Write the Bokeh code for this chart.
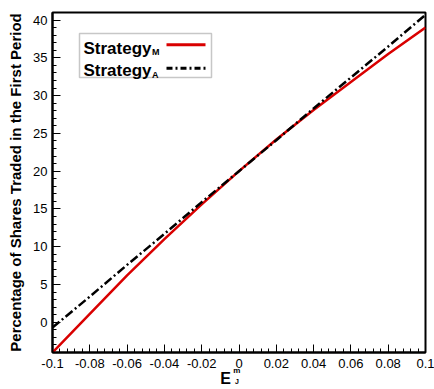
from bokeh.plotting import figure
from bokeh.models import (Range1d, SingleIntervalTicker, CustomJSTickFormatter,
                          FixedTicker, LinearAxis, Label, BoxAnnotation, Arrow)
from bokeh.embed import file_html
from bokeh.resources import INLINE

# ---- data ----
e_jm = [-0.1, -0.08, -0.06, -0.04, -0.02, 0.0, 0.02, 0.04, 0.06, 0.08, 0.1]
strategy_m = [-4.0, 1.1, 6.2, 11.0, 15.6, 20.0, 24.2, 28.1, 31.8, 35.5, 39.0]
strategy_a = [-0.7, 3.4, 7.6, 11.7, 15.9, 20.0, 24.1, 28.3, 32.4, 36.5, 40.7]
legend_labels = ["Strategy", "Strategy"]
legend_subs = ["M", "A"]
y_title = "Percentage of Shares Traded in the First Period"
x_title, x_sup, x_sub = "E", "m", "J"

FONT = "Liberation Sans"
NB = "\u00a0"
W, H = 434, 389
L, R, T, B = 52, 9, 12, 37
FRAME_L, FRAME_B = L, H - B

def sx(x):
    return x - FRAME_L

def sy(y):
    return FRAME_B - y

p = figure(width=W, height=H, output_backend="svg", toolbar_location=None,
           x_range=Range1d(-0.1, 0.1), y_range=Range1d(-4, 41),
           min_border_left=L, min_border_right=R, min_border_top=T, min_border_bottom=B)
p.grid.visible = False
p.outline_line_color = "black"
p.outline_line_width = 2
p.background_fill_color = "white"
p.border_fill_color = "white"

p.xaxis.ticker = SingleIntervalTicker(interval=0.02, num_minor_ticks=5)
p.yaxis.ticker = SingleIntervalTicker(interval=5, num_minor_ticks=5)
p.xaxis.formatter = CustomJSTickFormatter(code="""
if (Math.abs(tick) < 1e-9) return '0';
let s = tick.toFixed(2);
s = s.replace(/0+$/, '').replace(/\\.$/, '');
return s;
""")
for ax in (p.xaxis[0], p.yaxis[0]):
    ax.major_tick_in = 8
    ax.major_tick_out = 0
    ax.minor_tick_in = 4
    ax.minor_tick_out = 0
    ax.major_tick_line_color = "black"
    ax.minor_tick_line_color = "black"
    ax.axis_line_color = "black"
    ax.axis_line_width = 2
    ax.major_label_text_font = FONT
    ax.major_label_text_font_size = "13px"
    ax.major_label_text_color = "black"
p.xaxis.major_label_standoff = 6
p.yaxis.major_label_standoff = 5
p.yaxis.axis_label = y_title
p.yaxis.axis_label_text_font = FONT
p.yaxis.axis_label_text_font_size = "15px"
p.yaxis.axis_label_text_font_style = "bold"
p.yaxis.axis_label_text_color = "black"
p.yaxis.axis_label_standoff = 6

# x-axis title E_J^m built from stacked axis labels (superscript, letter, subscript)
xa = p.xaxis[0]
xa.axis_label = x_sup + NB * 2
xa.axis_label_text_font = FONT
xa.axis_label_text_font_size = "8px"
xa.axis_label_text_font_style = "bold"
xa.axis_label_text_color = "black"
xa.axis_label_standoff = -5


def label_axis(text, size, standoff):
    ax = LinearAxis(ticker=FixedTicker(ticks=[]), axis_line_color=None,
                    major_tick_line_color=None, minor_tick_line_color=None,
                    major_tick_in=0, major_tick_out=0, minor_tick_in=0, minor_tick_out=0,
                    major_label_standoff=0, axis_label=text,
                    axis_label_text_font=FONT, axis_label_text_font_size=size,
                    axis_label_text_font_style="bold", axis_label_text_color="black",
                    axis_label_standoff=standoff)
    p.add_layout(ax, "below")


label_axis(x_title + NB * 6, "16px", -8)
label_axis(x_sub + NB * 2, "7px", -12)

p.line(e_jm, strategy_m, line_color="#d90000", line_width=2.5)
p.line(e_jm, strategy_a, line_color="black", line_width=2.5, line_dash="9 3 2 3")

# ---- legend (drawn by hand: label left, sample right) ----
p.add_layout(BoxAnnotation(left=sx(79), right=sx(211), top=sy(33), bottom=sy(77),
                           left_units="screen", right_units="screen",
                           top_units="screen", bottom_units="screen",
                           fill_color="white", fill_alpha=1.0,
                           line_color="#444444", line_width=1.5))
rows = [(47.7, 44.3, "#d90000", "solid"), (70.0, 67.7, "black", "6 3 2 3")]
for (base, ly, col, dash), lab, sub in zip(rows, legend_labels, legend_subs):
    p.add_layout(Label(x=sx(83), y=sy(base), x_units="screen", y_units="screen",
                       text=lab, text_font=FONT, text_font_size="17px",
                       text_font_style="bold", text_color="black",
                       text_baseline="alphabetic", text_align="left"))
    p.add_layout(Label(x=sx(151.5), y=sy(base + 4), x_units="screen", y_units="screen",
                       text=sub, text_font=FONT, text_font_size="9px",
                       text_font_style="bold", text_color="black",
                       text_baseline="alphabetic", text_align="left"))
    p.add_layout(Arrow(end=None, x_start=sx(166), y_start=sy(ly), x_end=sx(205), y_end=sy(ly),
                       start_units="screen", end_units="screen",
                       line_color=col, line_width=3, line_dash=dash))

open("out.html", "w").write(file_html(p, INLINE))
